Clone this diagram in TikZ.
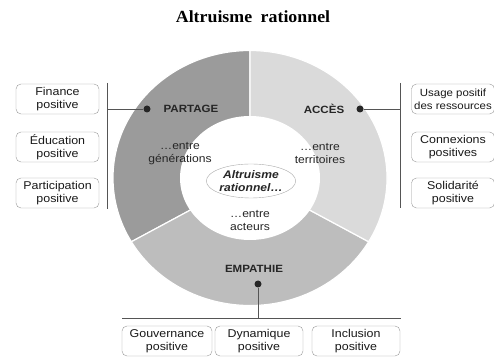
\documentclass[tikz,border=0pt]{standalone}
\usepackage{fontspec}
\setmainfont{Liberation Sans}[FakeStretch=1.1]
\newfontfamily\titrefont{Liberation Serif}[FakeStretch=1.05]
\usetikzlibrary{shapes.geometric}

\definecolor{gpartage}{HTML}{9B9B9B}
\definecolor{gempathie}{HTML}{BDBDBD}
\definecolor{gacces}{HTML}{DADADA}
\definecolor{trait}{HTML}{555555}

\tikzset{
  boite/.style={draw=gray!80, rounded corners=5pt, fill=white, minimum width=83pt,
    minimum height=30pt, align=center, inner sep=1pt, text=black!90,
    font=\fontsize{11.3}{12.8}\selectfont},
  pilier/.style={font=\fontsize{10.5}{12}\selectfont\bfseries, text=black!85},
  entre/.style={align=center, font=\fontsize{11}{13}\selectfont, text=black!85},
  point/.style={circle, fill=black!85, inner sep=0pt, minimum size=7pt},
  lien/.style={draw=trait, line width=0.8pt},
  secteur/.style={draw=white, line width=1.2pt},
}

\begin{document}
\begin{tikzpicture}[x=1pt, y=1pt]
  \useasboundingbox (0,0) rectangle (494,358);

  \node[font=\titrefont\bfseries\fontsize{17}{19}\selectfont] (titre) at (253,341)
    {Altruisme\enspace rationnel};

  % anneau
  \def\rx{137}
  \def\ry{127.5}
  \coordinate (C) at (250,180);
  \fill[gpartage, secteur] (C) -- ++({\rx*cos(90)},{\ry*sin(90)})
    arc[start angle=90, end angle=210, x radius=\rx, y radius=\ry] -- cycle;
  \fill[gempathie, secteur] (C) -- ++({\rx*cos(210)},{\ry*sin(210)})
    arc[start angle=210, end angle=330, x radius=\rx, y radius=\ry] -- cycle;
  \fill[gacces, secteur] (C) -- ++({\rx*cos(330)},{\ry*sin(330)})
    arc[start angle=330, end angle=450, x radius=\rx, y radius=\ry] -- cycle;
  \fill[white] (C) ellipse[x radius=70, y radius=62];

  \node[ellipse, draw=gray!65, fill=white, minimum width=82pt, minimum height=34pt,
    inner sep=0pt, align=center, text=black!85,
    font=\fontsize{11}{13.5}\selectfont\bfseries\itshape] (centre) at (251,177)
    {Altruisme\\rationnel\dots};

  \node[entre] (generations) at (180,204) {\dots entre\\générations};
  \node[entre] (territoires) at (320,204) {\dots entre\\territoires};
  \node[entre] (acteurs) at (250,137) {\dots entre\\acteurs};

  \node[pilier] (partage) at (191,249) {PARTAGE};
  \node[pilier] (acces) at (324,249) {ACCÈS};
  \node[pilier] (empathie) at (254,89) {EMPATHIE};

  \node[point] (ppartage) at (147,249) {};
  \node[point] (pacces) at (360,249) {};
  \node[point] (pempathie) at (258,74) {};

  % accolades
  \coordinate (gh) at (107,275);
  \coordinate (gb) at (107,149);
  \coordinate (dh) at (400,275);
  \coordinate (db) at (400,150);
  \coordinate (bg) at (122,40);
  \coordinate (bd) at (401,40);
  \draw[lien] (gh) -- (gb);
  \draw[lien] (dh) -- (db);
  \draw[lien] (bg) -- (bd);
  \draw[lien] (ppartage) -- (ppartage -| gh);
  \draw[lien] (pacces) -- (pacces -| dh);
  \draw[lien] (pempathie) -- (pempathie |- bg);

  % boites
  \node[boite] (finance) at (57.5,259) {Finance\\positive};
  \node[boite] (education) at (57.5,211) {Éducation\\positive};
  \node[boite] (participation) at (57.5,165) {Participation\\positive};

  \node[boite, font=\fontsize{10.4}{12.8}\selectfont] (usage) at (453,259)
    {Usage positif\\des ressources};
  \node[boite] (connexions) at (453,211) {Connexions\\positives};
  \node[boite] (solidarite) at (453,165) {Solidarité\\positive};

  \node[boite, minimum width=90pt] (gouvernance) at (167,17) {Gouvernance\\positive};
  \node[boite, minimum width=88pt] (dynamique) at (259,17) {Dynamique\\positive};
  \node[boite, minimum width=88pt] (inclusion) at (356,17) {Inclusion\\positive};
\end{tikzpicture}
\end{document}
